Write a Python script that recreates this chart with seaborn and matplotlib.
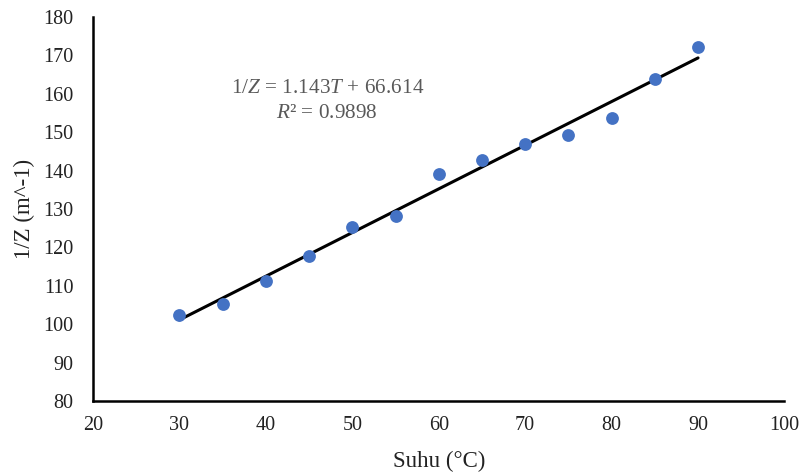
import numpy as np
import matplotlib
matplotlib.use('Agg')
import matplotlib.pyplot as plt
import seaborn as sns

suhu = [30, 35, 40, 45, 50, 55, 60, 65, 70, 75, 80, 85, 90]
inv_z = [102.4, 105.3, 111.2, 117.8, 125.2, 128.3, 139.0, 142.9, 146.9, 149.3, 153.8, 163.8, 172.3]

sns.set_style('white')
plt.rcParams['font.family'] = ['Liberation Serif', 'DejaVu Serif']
plt.rcParams['mathtext.fontset'] = 'custom'
plt.rcParams['mathtext.rm'] = 'Liberation Serif'
plt.rcParams['mathtext.it'] = 'Liberation Serif:italic'

fig = plt.figure(figsize=(8.04, 4.74), dpi=100)
ax = fig.add_axes([0.1157, 0.154, 0.86, 0.81])

sns.regplot(x=suhu, y=inv_z, ci=None, ax=ax,
            scatter_kws={'color': '#4472C4', 's': 85, 'alpha': 1, 'linewidths': 0, 'zorder': 3},
            line_kws={'color': 'black', 'linewidth': 2.2, 'zorder': 2})

ax.set_xlim(20, 100)
ax.set_ylim(80, 180)
ax.set_xticks(np.arange(20, 101, 10))
ax.set_yticks(np.arange(80, 181, 10))
ax.tick_params(axis='y', length=0, labelsize=14.5, colors='#222222', pad=14)
ax.tick_params(axis='x', length=0, labelsize=14.5, colors='#222222', pad=11)

for s in ['top', 'right']:
    ax.spines[s].set_visible(False)
for s in ['left', 'bottom']:
    ax.spines[s].set_color('black')
    ax.spines[s].set_linewidth(1.8)

ax.set_xlabel('Suhu (°C)', fontsize=16.5, color='#222222', labelpad=11)
ax.set_ylabel('1/Z (m^-1)', fontsize=16.5, color='#222222', labelpad=6)

ax.text(47.1, 161.5, r'1/$\mathit{Z}$ = 1.143$\mathit{T}$ + 66.614', ha='center', va='center',
        fontsize=15.3, color='#595959')
ax.text(47.1, 155.0, r'$\mathit{R}$² = 0.9898', ha='center', va='center',
        fontsize=15.3, color='#595959')

fig.savefig('out.png', dpi=100)
